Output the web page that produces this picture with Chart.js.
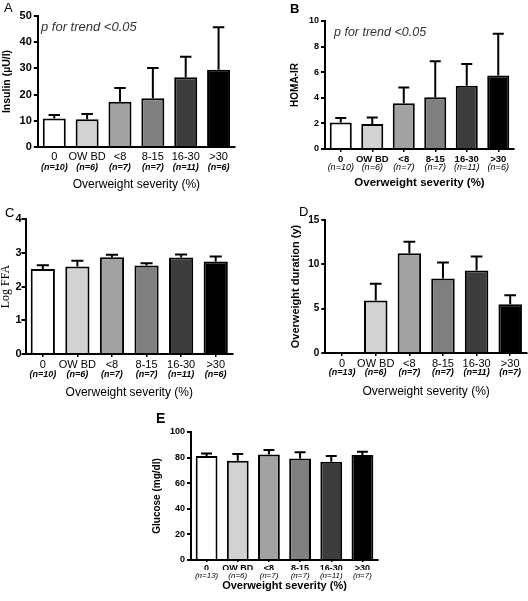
<!DOCTYPE html>
<html><head><meta charset="utf-8">
<script src="https://cdn.jsdelivr.net/npm/chart.js@4"></script>
<style>
body{margin:0;background:#fff;width:528px;height:601px;position:relative;overflow:hidden;font-family:'Liberation Sans',Arial,sans-serif}
.box{position:absolute}
.lbl{position:absolute;font-family:'Liberation Sans',Arial,sans-serif;color:#000;line-height:1}
.pt{position:absolute;font-style:italic;color:#333;font-family:'Liberation Sans',Arial,sans-serif;white-space:nowrap;line-height:1}
</style></head><body>
<div class="box" style="left:0;top:6px"><canvas id="cA" width="245" height="192"></canvas></div>
<div class="box" style="left:264px;top:6px"><canvas id="cB" width="260" height="192"></canvas></div>
<div class="box" style="left:-1px;top:210px"><canvas id="cC" width="246" height="192"></canvas></div>
<div class="box" style="left:264px;top:210px"><canvas id="cD" width="264" height="192"></canvas></div>
<div class="box" style="left:130px;top:420px"><canvas id="cE" width="260" height="181"></canvas></div>

<div class="lbl" style="left:4px;top:1px;font-size:13px">A</div>
<div class="lbl" style="left:290px;top:2px;font-size:13px;font-weight:bold">B</div>
<div class="lbl" style="left:5px;top:206px;font-size:13px">C</div>
<div class="lbl" style="left:299px;top:205px;font-size:13px">D</div>
<div class="lbl" style="left:156px;top:411px;font-size:14px;font-weight:bold">E</div>
<div class="pt" style="left:41px;top:20px;font-size:13px">p for trend &lt;0.05</div>
<div class="pt" style="left:334px;top:26px;font-size:12.5px">p for trend &lt;0.05</div>
<script>
// ---- data ----
const categories = ['0', 'OW BD', '<8', '8-15', '16-30', '>30'];
const nLabels1 = ['(n=10)', '(n=6)', '(n=7)', '(n=7)', '(n=11)', '(n=6)'];
const nLabels2 = ['(n=13)', '(n=6)', '(n=7)', '(n=7)', '(n=11)', '(n=7)'];

const insulinMean = [10.9, 10.6, 17.3, 18.6, 26.6, 29.5];
const insulinErr  = [1.3, 2.0, 5.2, 11.6, 7.8, 16.2];

const homaMean = [2.08, 1.95, 3.58, 4.05, 4.94, 5.74];
const homaErr  = [0.34, 0.52, 1.22, 2.81, 1.71, 3.27];

const ffaMean = [2.52, 2.59, 2.87, 2.62, 2.86, 2.74];
const ffaErr  = [0.11, 0.17, 0.07, 0.07, 0.09, 0.15];

const durMean = [0, 5.92, 11.25, 8.4, 9.3, 5.51];
const durErr  = [0, 1.88, 1.31, 1.8, 1.57, 1.01];

const gluMean = [81.2, 77.6, 82.5, 79.2, 76.8, 82.0];
const gluErr  = [2.1, 5.2, 3.4, 4.9, 4.45, 2.6];

const barColors = ['#ffffff', '#d2d2d2', '#a2a2a2', '#7f7f7f', '#3d3d3d', '#000000'];

// ---- error bar plugin ----
const errorBars = {
  id: 'errorBars',
  afterDatasetsDraw(chart) {
    const ctx = chart.ctx;
    const ys = chart.scales.y;
    chart.data.datasets.forEach((ds, di) => {
      if (!ds.errors) return;
      const meta = chart.getDatasetMeta(di);
      meta.data.forEach((bar, i) => {
        const e = ds.errors[i];
        if (!e) return;
        const top = ys.getPixelForValue(ds.data[i] + e);
        const half = bar.width / 4;
        ctx.save();
        ctx.strokeStyle = '#000';
        ctx.lineWidth = 2;
        ctx.beginPath();
        ctx.moveTo(bar.x, bar.y);
        ctx.lineTo(bar.x, top);
        ctx.moveTo(bar.x - half, top);
        ctx.lineTo(bar.x + half, top);
        ctx.stroke();
        ctx.restore();
      });
    });
  }
};

function panel(id, means, errs, nLab, yMax, yStep, yTitle, st, pad) {
  const ff = "'Liberation Sans', Arial, sans-serif";
  new Chart(document.getElementById(id), {
    type: 'bar',
    data: {
      labels: categories,
      datasets: [{
        data: means, errors: errs,
        backgroundColor: barColors, borderColor: '#000', borderWidth: 2,
        categoryPercentage: 1, barPercentage: 0.7
      }]
    },
    plugins: [errorBars],
    options: {
      responsive: false, animation: false,
      layout: { padding: pad },
      plugins: { legend: { display: false }, tooltip: { enabled: false } },
      scales: {
        x: {
          grid: { display: st.tl > 0, offset: false, drawOnChartArea: false, drawTicks: st.tl > 0,
                  tickLength: st.tl, color: '#000', lineWidth: 1.5 },
          border: { display: true, color: '#000', width: 2 },
          ticks: { color: '#000', padding: st.catPad, maxRotation: 0, autoSkip: false,
                   font: { family: ff, size: st.catSize, weight: st.catWeight } },
          afterFit(s) { s.height = st.xH; }
        },
        x2: {
          type: 'category', labels: nLab, position: 'bottom', offset: true,
          grid: { display: false, drawTicks: false, tickLength: 0 }, border: { display: false },
          ticks: { color: '#000', padding: st.nPad, maxRotation: 0, autoSkip: false,
                   font: { family: ff, size: st.nSize, style: 'italic', weight: st.nWeight } },
          title: { display: true, text: 'Overweight severity (%)', color: '#000',
                   padding: { top: 0, bottom: 0 },
                   font: { family: ff, size: st.xtSize, weight: st.xtWeight } },
          afterFit(s) { s.height = st.x2H; }
        },
        y: {
          min: 0, max: yMax,
          grid: { display: true, drawOnChartArea: false, drawTicks: true, tickLength: 4,
                  color: '#000', lineWidth: 2 },
          border: { display: true, color: '#000', width: 2 },
          ticks: { stepSize: yStep, color: '#000', padding: st.yPad,
                   font: { family: ff, size: st.tickSize, weight: 'bold' } },
          title: { display: true, text: yTitle, color: '#000', padding: { top: 0, bottom: st.ytPad },
                   font: { family: st.ytFamily || ff, size: st.ytSize, weight: st.ytWeight } }
        }
      }
    }
  });
}

panel('cA', insulinMean, insulinErr, nLabels1, 50, 10, 'Insulin (\u00b5U/l)',
  { tl: 0, catPad: 3, xH: 14, nPad: 1, x2H: 31, yPad: 2, ytPad: 4,
    catSize: 11, catWeight: 'normal', nSize: 9, nWeight: 'bold', xtSize: 12, xtWeight: 'normal',
    tickSize: 11, ytSize: 10.5, ytWeight: 'bold' },
  { left: 1, right: 10, top: 10, bottom: 6 });
panel('cB', homaMean, homaErr, nLabels1, 10, 2, 'HOMA-IR',
  { tl: 3, catPad: 2, xH: 13, nPad: 0, x2H: 28, yPad: 2, ytPad: 6,
    catSize: 9.5, catWeight: 'bold', nSize: 9, nWeight: 'normal', xtSize: 11.5, xtWeight: 'bold',
    tickSize: 9, ytSize: 10, ytWeight: 'bold' },
  { left: 25, right: 10, top: 15, bottom: 8 });
panel('cC', ffaMean, ffaErr, nLabels1, 4, 1, 'Log FFA',
  { tl: 3, catPad: 1, xH: 14, nPad: 1, x2H: 32, yPad: 0, ytPad: 2,
    catSize: 11, catWeight: 'normal', nSize: 9, nWeight: 'bold', xtSize: 12, xtWeight: 'normal',
    tickSize: 11, ytSize: 12, ytWeight: 'normal', ytFamily: "'Liberation Serif', 'Times New Roman', serif" },
  { left: 0, right: 12, top: 9, bottom: 2 });
panel('cD', durMean, durErr, nLabels2, 15, 5, 'Overweight duration (y)',
  { tl: 3, catPad: 1, xH: 14, nPad: 0, x2H: 32, yPad: 2, ytPad: 4,
    catSize: 11, catWeight: 'normal', nSize: 9, nWeight: 'bold', xtSize: 12, xtWeight: 'normal',
    tickSize: 10, ytSize: 11, ytWeight: 'bold' },
  { left: 25, right: 1, top: 10, bottom: 3 });
panel('cE', gluMean, gluErr, nLabels2, 100, 20, 'Glucose (mg/dl)',
  { tl: 2, catPad: 1, xH: 10, nPad: 1, x2H: 23, yPad: 2, ytPad: 5,
    catSize: 9, catWeight: 'bold', nSize: 8, nWeight: 'normal', xtSize: 11, xtWeight: 'bold',
    tickSize: 9, ytSize: 10, ytWeight: 'bold' },
  { left: 21, right: 12, top: 12, bottom: 8 });
</script>
</body></html>
